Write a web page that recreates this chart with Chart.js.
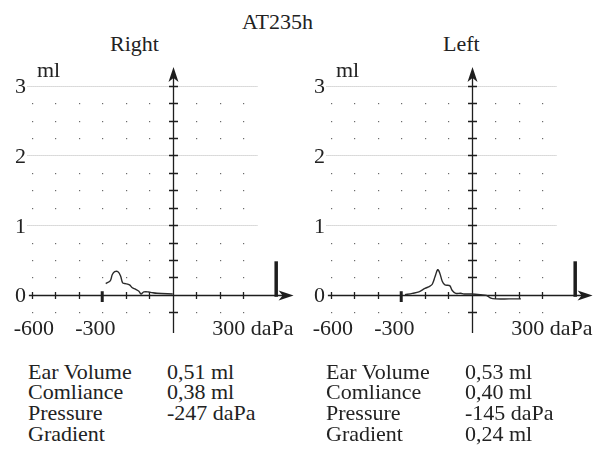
<!DOCTYPE html>
<html>
<head>
<meta charset="utf-8">
<script src="https://cdn.jsdelivr.net/npm/chart.js@4.4.1/dist/chart.umd.min.js"></script>
<style>
  body { margin: 0; background: #fff; width: 612px; height: 453px; overflow: hidden; position: relative;
         font-family: "Liberation Serif", "Times New Roman", Times, "DejaVu Serif", "Noto Serif", serif; color: #222; }
  .t { position: absolute; font-size: 22px; line-height: 22px; white-space: nowrap; }
  .tbl { position: absolute; font-size: 22px; line-height: 20.7px; white-space: nowrap; }
  .tbl div { height: 20.7px; position: relative; }
  .tbl span { position: absolute; top: 0; }
  canvas { position: absolute; top: 0; }
</style>
</head>
<body>
<div class="t" id="title" style="left:242px; top:10.6px"></div>
<div class="t" id="nameRight" style="left:110px; top:32.6px"></div>
<div class="t" id="nameLeft" style="left:443px; top:32.6px"></div>
<canvas id="chartRight" width="306" height="345" style="left:0"></canvas>
<canvas id="chartLeft" width="306" height="345" style="left:299px"></canvas>
<div class="tbl" id="tblRight" style="left:28px; top:361.7px"></div>
<div class="tbl" id="tblLeft" style="left:326px; top:361.7px"></div>

<script>
const title = "AT235h";
const earNames = ["Right", "Left"];

// axis ticks
const yTicks = [0, 1, 2, 3];
const xTickValues = [-600, -300, 300];
const xTickText = ["-600", "-300", "300 daPa"];

// sweep markers (daPa)
const sweepStart = -300;
const sweepEnd = 440;

// tympanogram curves, pressure in daPa, volume in ml
const rightPressure = [-285, -266, -257, -247, -233, -222, -213, -201, -184, -172, -159, -144, -135, -123, -102, -88, -67, 0];
const rightVolume   = [0.16, 0.20, 0.29, 0.33, 0.33, 0.27, 0.17, 0.16, 0.14, 0.10, 0.08, 0.05, 0.01, 0.04, 0.04, 0.03, 0.02, 0.01];

const leftPressure = [-284, -253, -225, -199, -179, -168, -156, -145, -136, -125, -114, -94, -83, -68, -47, -33, 0, 38, 62, 81, 102, 159, 209];
const leftVolume   = [0.00, 0.02, 0.04, 0.09, 0.12, 0.15, 0.26, 0.36, 0.31, 0.19, 0.14, 0.13, 0.06, 0.02, 0.02, 0.01, 0.01, 0.00, -0.01, -0.05, -0.06, -0.06, -0.06];

// result table
const tableLabels = ["Ear Volume", "Comliance", "Pressure", "Gradient"];
const rightResults = ["0,51 ml", "0,38 ml", "-247 daPa", ""];
const leftResults  = ["0,53 ml", "0,40 ml", "-145 daPa", "0,24 ml"];

document.getElementById("title").textContent = title;
document.getElementById("nameRight").textContent = earNames[0];
document.getElementById("nameLeft").textContent = earNames[1];

function fillTable(id, values) {
  const el = document.getElementById(id);
  tableLabels.forEach((lab, i) => {
    const row = document.createElement("div");
    row.innerHTML = `<span style="left:0">${lab}</span><span style="left:139px">${values[i]}</span>`;
    el.appendChild(row);
  });
}
fillTable("tblRight", rightResults);
fillTable("tblLeft", leftResults);

const FONT = '22px "Liberation Serif", "Times New Roman", Times, "DejaVu Serif", serif';
const INK = "#1e1e1e";

// axes, arrows, dot grid and labels drawn against the chart scales
const tympAxes = {
  id: "tympAxes",
  beforeDatasetsDraw(chart) {
    const { ctx, chartArea, scales: { x, y } } = chart;
    const px = v => x.getPixelForValue(v);
    const py = v => y.getPixelForValue(v);
    const x0 = Math.round(px(0)) + 0.5;
    const y0 = Math.round(py(0)) + 0.5;
    ctx.save();

    // light dotted lines at whole ml
    ctx.strokeStyle = "#b8b8b8";
    ctx.lineWidth = 1;
    ctx.setLineDash([1, 1]);
    yTicks.filter(v => v > 0).forEach(v => {
      const yy = Math.round(py(v)) + 0.5;
      ctx.beginPath();
      ctx.moveTo(px(-618), yy);
      ctx.lineTo(px(362), yy);
      ctx.stroke();
    });
    ctx.setLineDash([]);

    // dot grid every 100 daPa / 0.25 ml
    ctx.fillStyle = "#6a6a6a";
    for (let p = -600; p <= 300; p += 100) {
      if (p === 0) continue;
      for (let k = -1; k < 12; k++) {
        if (k % 4 === 0) continue;
        ctx.fillRect(Math.round(px(p)), Math.round(py(k * 0.25)), 1.2, 1.2);
      }
    }

    ctx.strokeStyle = INK;
    ctx.fillStyle = INK;
    ctx.lineWidth = 1.3;

    // horizontal axis + arrow
    const xTip = px(514);
    ctx.beginPath();
    ctx.moveTo(px(-612), y0);
    ctx.lineTo(xTip - 8, y0);
    ctx.stroke();
    ctx.beginPath();
    ctx.moveTo(xTip, y0);
    ctx.lineTo(xTip - 15, y0 - 5);
    ctx.lineTo(xTip - 11, y0);
    ctx.lineTo(xTip - 15, y0 + 5);
    ctx.closePath();
    ctx.fill();

    // vertical axis + arrow
    const yTip = py(3.27);
    ctx.beginPath();
    ctx.moveTo(x0, py(-0.55));
    ctx.lineTo(x0, yTip + 8);
    ctx.stroke();
    ctx.beginPath();
    ctx.moveTo(x0, yTip);
    ctx.lineTo(x0 - 5, yTip + 15);
    ctx.lineTo(x0, yTip + 11);
    ctx.lineTo(x0 + 5, yTip + 15);
    ctx.closePath();
    ctx.fill();

    // ticks on the axes
    ctx.beginPath();
    for (let k = -1; k <= 12; k++) {
      if (k === 0) continue;
      const yy = Math.round(py(k * 0.25)) + 0.5;
      ctx.moveTo(x0 - 4.5, yy);
      ctx.lineTo(x0 + 4.5, yy);
    }
    for (let p = -600; p <= 300; p += 100) {
      if (p === 0 || p === sweepStart) continue;
      const xx = Math.round(px(p)) + 0.5;
      ctx.moveTo(xx, y0 - 3.5);
      ctx.lineTo(xx, y0 + 3.5);
    }
    ctx.stroke();

    // labels
    ctx.font = FONT;
    ctx.fillStyle = "#222";
    ctx.textBaseline = "alphabetic";
    ctx.textAlign = "right";
    yTicks.forEach(v => ctx.fillText(String(v), chartArea.left - 1, py(v) + 7.5));
    ctx.textAlign = "left";
    ctx.fillText("ml", chartArea.left + 10, 77);
    const shift = [18, 27, 31];
    xTickValues.forEach((v, i) => ctx.fillText(xTickText[i], px(v) - shift[i], 335));

    ctx.restore();
  }
};

function makeChart(id, pressure, volume) {
  const curve = pressure.map((p, i) => ({ x: p, y: volume[i] }));
  new Chart(document.getElementById(id).getContext("2d"), {
    type: "scatter",
    data: {
      datasets: [
        {
          data: curve,
          showLine: true,
          borderColor: "#2b2b2b",
          borderWidth: 1.4,
          tension: 0.35,
          pointRadius: 0,
        },
        {
          data: [{ x: sweepStart, y: -0.105 }, { x: sweepStart, y: 0.05 }],
          showLine: true,
          borderColor: INK,
          borderWidth: 3,
          borderCapStyle: "butt",
          pointRadius: 0,
        },
        {
          data: [{ x: sweepEnd, y: -0.03 }, { x: sweepEnd, y: 0.48 }],
          showLine: true,
          borderColor: INK,
          borderWidth: 3.5,
          borderCapStyle: "butt",
          pointRadius: 0,
        },
      ],
    },
    options: {
      responsive: false,
      maintainAspectRatio: false,
      animation: false,
      layout: { padding: { left: 27, top: 65, right: 11, bottom: 12 } },
      plugins: { legend: { display: false }, tooltip: { enabled: false } },
      scales: {
        x: { type: "linear", min: -620, max: 520, display: false },
        y: { type: "linear", min: -0.55, max: 3.3, display: false },
      },
    },
    plugins: [tympAxes],
  });
}

makeChart("chartRight", rightPressure, rightVolume);
makeChart("chartLeft", leftPressure, leftVolume);
</script>
</body>
</html>
